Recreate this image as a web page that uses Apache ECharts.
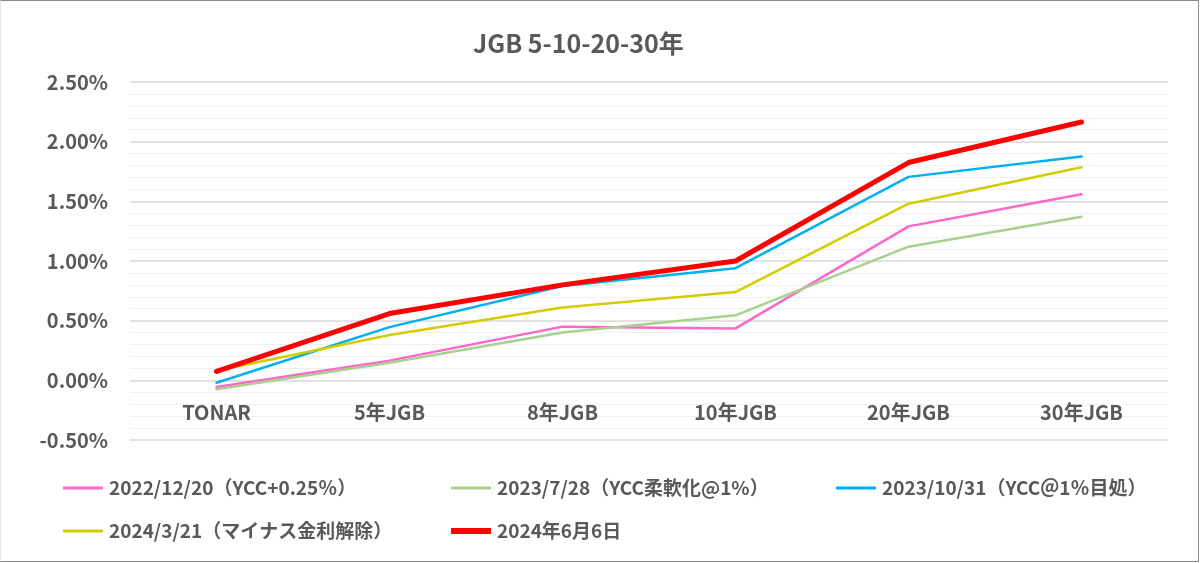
<!DOCTYPE html>
<html>
<head>
<meta charset="utf-8">
<script src="https://cdn.jsdelivr.net/npm/echarts@6/dist/echarts.min.js"></script>
<style>
html,body{margin:0;padding:0;background:#fff;}
#wrap{position:absolute;left:0;top:0;width:1199px;height:562px;box-sizing:border-box;border:1px solid #8a8a8a;border-left-color:#e6e6e6;}
#chart{position:absolute;left:0;top:0;width:1200px;height:563px;}
</style>
</head>
<body>
<div id="chart"></div>
<div id="wrap"></div>
<script>
const categories = ['TONAR', '5年JGB', '8年JGB', '10年JGB', '20年JGB', '30年JGB'];
const yTicks = [-0.5, 0, 0.5, 1.0, 1.5, 2.0, 2.5];
const seriesNames = [
  '2022/12/20（YCC+0.25％）',
  '2023/7/28（YCC柔軟化@1%）',
  '2023/10/31（YCC＠1％目処）',
  '2024/3/21（マイナス金利解除）',
  '2024年6月6日'
];
const s20221220 = [-0.055, 0.165, 0.45, 0.435, 1.29, 1.56];
const s20230728 = [-0.075, 0.148, 0.40, 0.545, 1.12, 1.37];
const s20231031 = [-0.02, 0.446, 0.79, 0.94, 1.705, 1.875];
const s20240321 = [0.08, 0.38, 0.61, 0.74, 1.48, 1.785];
const s20240606 = [0.075, 0.56, 0.80, 1.00, 1.825, 2.165];

const seriesData = [s20221220, s20230728, s20231031, s20240321, s20240606];
const colors = ['#ff66cc', '#a9d18e', '#00b0f0', '#d4cc00', '#ff0000'];
const widths = [2.5, 2.5, 2.5, 2.5, 5];

const FONT = "'Noto Sans CJK JP', 'Noto Sans', sans-serif";
const TXT = '#595959';

const chart = echarts.init(document.getElementById('chart'), null, {renderer: 'canvas'});

// legend slot layout: [left, top] per series
const legendSlots = [[63, 477], [451, 477], [836, 477], [63, 520], [451, 520]];

chart.setOption({
  animation: false,
  backgroundColor: '#fff',
  title: {
    text: 'JGB 5-10-20-30年',
    left: 473,
    top: 31,
    padding: 0,
    textStyle: {fontFamily: FONT, fontSize: 25, fontWeight: 'bold', color: TXT}
  },
  legend: seriesNames.map((n, i) => ({
    left: legendSlots[i][0],
    top: legendSlots[i][1],
    padding: 0,
    icon: 'rect',
    itemWidth: 40,
    itemHeight: i === 4 ? 6 : 3,
    data: [n],
    textStyle: {fontFamily: FONT, fontSize: 19, fontWeight: 'bold', color: TXT, lineHeight: 22, padding: [0, 0, 0, 1]}
  })),
  grid: {left: 130, right: 32, top: 82, bottom: 123, containLabel: false},
  xAxis: {
    type: 'category',
    data: categories,
    boundaryGap: true,
    axisLine: {show: false, onZero: false},
    axisTick: {show: false},
    axisLabel: {margin: -38, fontFamily: FONT, fontSize: 20, fontWeight: 'bold', color: TXT}
  },
  yAxis: {
    type: 'value',
    min: yTicks[0],
    max: yTicks[yTicks.length - 1],
    interval: 0.5,
    axisLine: {show: false},
    axisTick: {show: false},
    splitLine: {show: true, lineStyle: {color: '#d9d9d9', width: 1.5}},
    minorTick: {show: false, splitNumber: 5},
    minorSplitLine: {show: true, lineStyle: {color: '#f0f0f0', width: 1}},
    axisLabel: {
      margin: 22,
      fontFamily: FONT, fontSize: 20, fontWeight: 'bold', color: TXT,
      formatter: v => v.toFixed(2) + '%'
    }
  },
  series: seriesData.map((d, i) => ({
    name: seriesNames[i],
    type: 'line',
    data: d,
    symbol: 'none',
    z: 2 + i,
    itemStyle: {color: colors[i]},
    lineStyle: {color: colors[i], width: widths[i], cap: 'round', join: 'round'}
  }))
});
</script>
</body>
</html>
